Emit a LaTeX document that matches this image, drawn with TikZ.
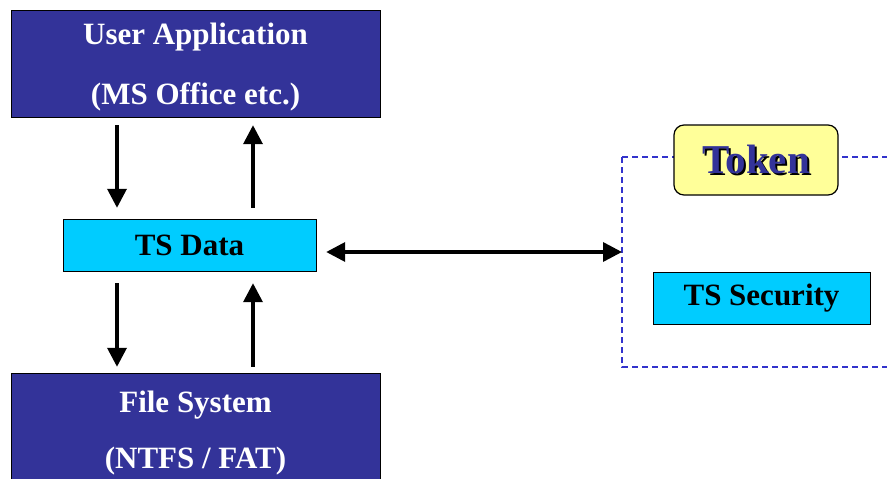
\documentclass[tikz,border=0pt]{standalone}
\usepackage{fontspec}
\setmainfont{Liberation Serif}
\usetikzlibrary{positioning, arrows.meta, calc}
\definecolor{appblue}{HTML}{333399}
\definecolor{tscyan}{HTML}{00CCFF}
\definecolor{tokenyellow}{HTML}{FFFF99}
\definecolor{dashblue}{HTML}{3333CC}
\newcommand{\shadowed}[1]{\makebox[0pt][l]{\hspace{2pt}\raisebox{-2pt}{\color{black}#1}}#1}

\begin{document}
\begin{tikzpicture}[x=1pt, y=-1pt,
    bigbox/.style={draw=black, fill=appblue, text=white, align=center, inner sep=0pt,
        minimum width=369pt, text depth=0pt},
    tsbox/.style={draw=black, fill=tscyan, inner sep=0pt, minimum height=52pt,
        font=\fontsize{31}{36}\selectfont\bfseries},
    tokenbox/.style={draw=black, line width=1.2pt, fill=tokenyellow, rounded corners=10pt,
        minimum width=164pt, minimum height=70pt, text=appblue,
        font=\fontsize{41}{48}\selectfont\bfseries},
    secframe/.style={dashblue, line width=1.3pt, dash pattern=on 6pt off 4pt},
    arr/.style={line width=3.5pt, -{Triangle[length=19pt,width=19pt]}},
    dblarr/.style={line width=3.5pt, {Triangle[length=19pt,width=19pt]}-{Triangle[length=19pt,width=19pt]}}]
    \useasboundingbox (0,0) rectangle (887,479);
    \clip (0,0) rectangle (887,479);
    % left column
    \node[bigbox, minimum height=107pt, font=\fontsize{31}{60}\selectfont\bfseries] (ua) at (195.5,63.5) {User Application\\(MS Office etc.)};
    \node[tsbox, minimum width=253pt] (tsd) at (189.5,245) {TS Data};
    \node[bigbox, minimum height=114pt, font=\fontsize{31}{56}\selectfont\bfseries] (fs) at (195.5,430) {File System\\(NTFS / FAT)};
    % token side
    \draw[secframe] (622,157) rectangle (900,367);
    \coordinate (fl) at (622,252);
    \node[tokenbox] (tok) at (756,160) {\shadowed{Token}};
    \node[tsbox, minimum width=217pt] (tss) at (761.5,298) {TS Security};
    % arrows
    \draw[arr, shorten <=8pt, shorten >=11pt] ([xshift=-78.5pt]ua.south) -- ([xshift=-72.5pt]tsd.north);
    \draw[arr, shorten <=11pt, shorten >=8pt] ([xshift=63.5pt]tsd.north) -- ([xshift=57.5pt]ua.south);
    \draw[arr, shorten <=12pt, shorten >=6pt] ([xshift=-72.5pt]tsd.south) -- ([xshift=-78.5pt]fs.north);
    \draw[arr, shorten <=6pt, shorten >=12pt] ([xshift=57.5pt]fs.north) -- ([xshift=63.5pt]tsd.south);
    \draw[dblarr, shorten <=10pt] ([yshift=-7pt]tsd.east) -- (fl);
\end{tikzpicture}
\end{document}
